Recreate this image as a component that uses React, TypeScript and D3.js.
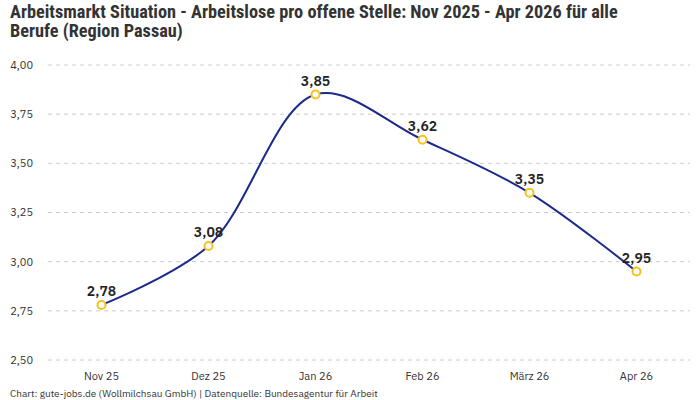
import * as d3 from "d3";

const months = ["Nov 25", "Dez 25", "Jan 26", "Feb 26", "März 26", "Apr 26"];
const values = [2.78, 3.08, 3.85, 3.62, 3.35, 2.95];
const yTicks = [2.5, 2.75, 3.0, 3.25, 3.5, 3.75, 4.0];

const W = 700;
const H = 400;
const left = 48;
const right = 690;
const top = 65;
const bottom = 360;

const fmt = (v: number) => v.toFixed(2).replace(".", ",");

export default function App() {
  const x = d3.scalePoint<string>().domain(months).range([left, right]).padding(0.5);
  const y = d3.scaleLinear().domain([2.5, 4.0]).range([bottom, top]);

  const line = d3
    .line<number>()
    .x((_, i) => x(months[i])!)
    .y((d) => y(d))
    .curve(d3.curveCatmullRom.alpha(0.5));

  const font = "'IBM Plex Sans', 'Noto Sans', Roboto, sans-serif";

  return (
    <svg width={W} height={H} style={{ position: "absolute", left: 0, top: 0, background: "#fff" }}>
      <g fontFamily="'Liberation Sans Narrow', 'Roboto Condensed', Roboto, sans-serif" fontWeight="bold" fontSize={18.3} fill="#333">
        <text x={10} y={18}>Arbeitsmarkt Situation - Arbeitslose pro offene Stelle: Nov 2025 - Apr 2026 für alle</text>
        <text x={10} y={37}>Berufe (Region Passau)</text>
      </g>

      {yTicks.map((t) => (
        <g key={t}>
          <line x1={left} x2={right} y1={y(t)} y2={y(t)} stroke="#ccc" strokeDasharray="4,4" strokeWidth={1} />
          <text x={33} y={y(t)} dy="0.35em" textAnchor="end" fontFamily={font} fontSize={11} fill="#333">
            {fmt(t)}
          </text>
        </g>
      ))}

      {months.map((m) => (
        <text key={m} x={x(m)} y={380} textAnchor="middle" fontFamily={font} fontSize={11} fill="#333">
          {m}
        </text>
      ))}

      <path d={line(values)!} fill="none" stroke="#1c2a8c" strokeWidth={2} />

      {values.map((v, i) => (
        <g key={i}>
          <circle cx={x(months[i])} cy={y(v)} r={4} fill="#fff" stroke="#f7c21b" strokeWidth={2} />
          <text x={x(months[i])} y={y(v) - 9} textAnchor="middle" fontFamily={font} fontSize={14} fontWeight={600} fill="#222">
            {fmt(v)}
          </text>
        </g>
      ))}

      <text x={10} y={397} fontFamily={font} fontSize={10} fill="#333">
        Chart: gute-jobs.de (Wollmilchsau GmbH) | Datenquelle: Bundesagentur für Arbeit
      </text>
    </svg>
  );
}
